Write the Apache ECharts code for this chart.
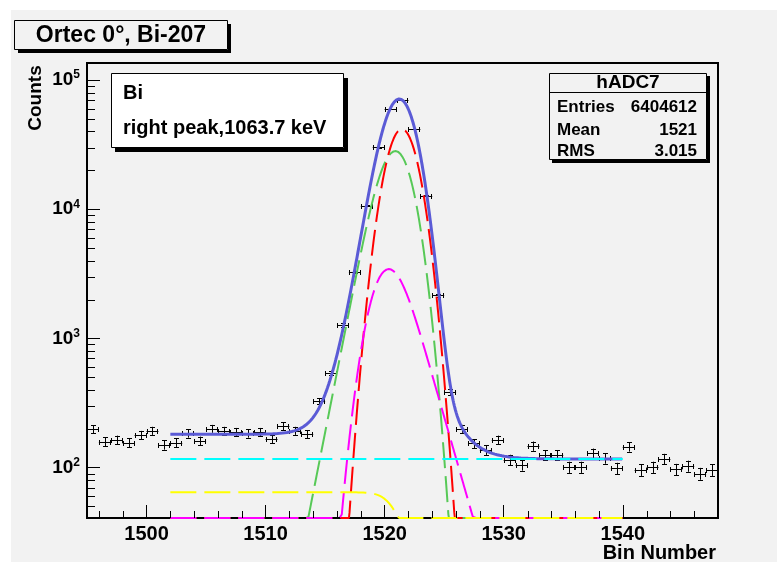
<!DOCTYPE html>
<html>
<head>
<meta charset="utf-8">
<script src="https://cdn.jsdelivr.net/npm/echarts@6/dist/echarts.min.js"></script>
<style>
html, body { margin: 0; padding: 0; background: #ffffff; }
#chart { width: 784px; height: 567px; }
</style>
</head>
<body>
<div id="chart"></div>
<script>
// ---- histogram hADC7 (one count per unit-wide bin, first bin starts at binStart) ----
const binStart = 1495;
const counts = [
  199, 159, 164, 156, 179, 193, 150, 156, 184, 161,
  200, 193, 189, 184, 189, 167, 210, 193, 182, 326,
  540, 1270, 3265, 10640, 30130, 59650, 69990, 41760, 12720, 2156,
  385, 200, 154, 137, 164, 115, 105, 147, 125, 125,
  101, 101, 129, 118, 99, 145, 96, 101, 117, 97,
  103, 90, 96
];

// ---- axes ----
const xRange = [1495, 1548];
const yRange = [40.73, 135400];
const xTickValues = [1500, 1510, 1520, 1530, 1540];
const yTickValues = [100, 1000, 10000, 100000];

// ---- fit components (drawn over fitRange) ----
const fitRange = [1502, 1540];
const redPeak = [41700, 1521.45, 1.19];            // height, position, sigma
const greenPeak = [28200, 1520.9, 1.15, 0.93];     // height, position, sigma, low-side tail
const magentaPeak = [3440, 1520.35, 1.2, 1.35];    // height, position, sigma, high-side tail
const flatLevel = [116.6];                          // constant background
const stepLevel = [64.4, 1521.55, 1.27];           // height, edge position, edge width

// ---- stats box ----
const statsTitle = 'hADC7';
const statsLabels = ['Entries', 'Mean', 'RMS'];
const statsValues = ['6404612', '1521', '3.015'];

const FONT = '"Liberation Sans", Arial, Helvetica, sans-serif';

// complementary error function (Chebyshev fit, rel. error < 1.2e-7)
function erfc(x) {
  const z = Math.abs(x);
  const t = 1 / (1 + 0.5 * z);
  const r = t * Math.exp(-z * z - 1.26551223 + t * (1.00002368 + t * (0.37409196 + t * (0.09678418 +
    t * (-0.18628806 + t * (0.27886807 + t * (-1.13520398 + t * (1.48851587 +
    t * (-0.82215223 + t * 0.17087277)))))))));
  return x >= 0 ? r : 2 - r;
}

// exponentially modified gaussian, tail towards negative d
function emgShape(d, sigma, tau) {
  return Math.exp(d / tau + sigma * sigma / (2 * tau * tau)) * erfc((d / sigma + sigma / tau) / Math.SQRT2);
}

// peak with an exponential tail, normalised to its height at its maximum
function tailedPeak(params, tailSide) {
  const [height, pos, sigma, tau] = params;
  let best = -1, dBest = 0;
  for (let d = -8; d <= 8; d += 0.001) {
    const v = emgShape(d, sigma, tau);
    if (v > best) { best = v; dBest = d; }
  }
  return x => {
    const d = tailSide < 0 ? (x - pos) + dBest : -(x - pos) + dBest;
    return height * emgShape(d, sigma, tau) / best;
  };
}

const redFn = x => redPeak[0] * Math.exp(-Math.pow(x - redPeak[1], 2) / (2 * redPeak[2] * redPeak[2]));
const greenFn = tailedPeak(greenPeak, -1);
const magentaFn = tailedPeak(magentaPeak, +1);
const cyanFn = x => flatLevel[0];
const yellowFn = x => stepLevel[0] * 0.5 * erfc((x - stepLevel[1]) / (stepLevel[2] * Math.SQRT2));
const totalFn = x => redFn(x) + greenFn(x) + magentaFn(x) + cyanFn(x) + yellowFn(x);

// sample a function over the fit range; values under the axis floor sit on the frame
function sample(fn) {
  const pts = [];
  const n = 760;
  for (let i = 0; i <= n; i++) {
    const x = fitRange[0] + (fitRange[1] - fitRange[0]) * i / n;
    pts.push([x, Math.max(fn(x), yRange[0])]);
  }
  return pts;
}

function fitSeries(name, fn, color, width, dashed, z) {
  return {
    name: name,
    type: 'line',
    data: sample(fn),
    showSymbol: false,
    clip: false,
    silent: true,
    z: z,
    lineStyle: { color: color, width: width, type: dashed ? [26, 8] : 'solid' }
  };
}

// minor tick positions
const xMinorTicks = [];
for (let v = xRange[0] + 1; v < xRange[1]; v += 2) if (v % 10 !== 0) xMinorTicks.push([v]);
const yMinorTicks = [];
for (let e = 1; e <= 5; e++) {
  for (let m = 2; m <= 9; m++) {
    const v = m * Math.pow(10, e);
    if (v > yRange[0] && v < yRange[1]) yMinorTicks.push([v]);
  }
}

const px = v => Math.round(v) + 0.5;

const chart = echarts.init(document.getElementById('chart'), null, { renderer: 'canvas' });

const option = {
  animation: false,
  backgroundColor: 'transparent',
  grid: {
    left: 87, top: 63, width: 631, height: 455,
    show: true, borderColor: '#000', borderWidth: 2, backgroundColor: 'transparent'
  },
  xAxis: {
    type: 'value',
    min: xRange[0], max: xRange[1],
    axisLine: { show: true, lineStyle: { color: '#000', width: 2 } },
    axisTick: { show: true, inside: true, length: 13, customValues: xTickValues, lineStyle: { color: '#000', width: 1 } },
    axisLabel: {
      customValues: xTickValues, margin: 6,
      formatter: v => String(v),
      fontFamily: FONT, fontWeight: 'bold', fontSize: 20, color: '#000'
    },
    splitLine: { show: false }
  },
  yAxis: {
    type: 'log',
    logBase: 10,
    min: yRange[0], max: yRange[1],
    axisLine: { show: true, lineStyle: { color: '#000', width: 2 } },
    axisTick: { show: true, inside: true, length: 13, customValues: yTickValues, lineStyle: { color: '#000', width: 1 } },
    axisLabel: {
      customValues: yTickValues, margin: 7,
      formatter: v => '{b|10}{s|' + Math.round(Math.log10(v)) + '}',
      rich: {
        b: { fontFamily: FONT, fontWeight: 'bold', fontSize: 19, lineHeight: 22, color: '#000' },
        s: { fontFamily: FONT, fontWeight: 'bold', fontSize: 12, lineHeight: 12, color: '#000', verticalAlign: 'top' }
      }
    },
    splitLine: { show: false }
  },
  series: [
    {
      name: 'hADC7',
      type: 'custom',
      clip: true,
      z: 2,
      silent: true,
      data: counts.map((c, i) => [binStart + i + 0.5, c, Math.sqrt(c)]),
      renderItem: (params, api) => {
        const x = api.value(0), y = api.value(1), e = api.value(2);
        const l = api.coord([x - 0.5, y]);
        const r = api.coord([x + 0.5, y]);
        const lo = api.coord([x, Math.max(y - e, yRange[0])]);
        const hi = api.coord([x, y + e]);
        const c = 2.5;
        const style = { stroke: '#000', lineWidth: 1 };
        const cy = px(l[1]), cx = px(lo[0]);
        const seg = (x1, y1, x2, y2) => ({ type: 'line', shape: { x1, y1, x2, y2 }, style });
        return {
          type: 'group',
          children: [
            seg(l[0], cy, r[0], cy),
            seg(cx, lo[1], cx, hi[1]),
            seg(px(l[0]), cy - c, px(l[0]), cy + c),
            seg(px(r[0]) - 1, cy - c, px(r[0]) - 1, cy + c),
            seg(cx - c, px(lo[1]), cx + c, px(lo[1])),
            seg(cx - c, px(hi[1]), cx + c, px(hi[1]))
          ]
        };
      }
    },
    fitSeries('total', totalFn, '#5b5bd6', 3, false, 3),
    fitSeries('green', greenFn, '#57c957', 2, true, 4),
    fitSeries('red', redFn, '#ff0000', 2, true, 5),
    fitSeries('magenta', magentaFn, '#ff00ff', 2, true, 6),
    fitSeries('yellow', yellowFn, '#ffff00', 2, true, 7),
    fitSeries('cyan', cyanFn, '#00ffff', 2, true, 8),
    {
      name: 'xMinor',
      type: 'custom',
      silent: true,
      clip: false,
      z: 10,
      data: xMinorTicks,
      renderItem: (params, api) => {
        const p = api.coord([api.value(0), yRange[0]]);
        return { type: 'line', shape: { x1: px(p[0]), y1: p[1], x2: px(p[0]), y2: p[1] - 7 }, style: { stroke: '#000', lineWidth: 1 } };
      }
    },
    {
      name: 'yMinor',
      type: 'custom',
      silent: true,
      clip: false,
      z: 10,
      data: yMinorTicks.map(t => [xRange[0], t[0]]),
      renderItem: (params, api) => {
        const p = api.coord([api.value(0), api.value(1)]);
        return { type: 'line', shape: { x1: p[0], y1: px(p[1]), x2: p[0] + 8, y2: px(p[1]) }, style: { stroke: '#000', lineWidth: 1 } };
      }
    }
  ],
  graphic: [
    // canvas area
    { type: 'rect', z: -100, silent: true, shape: { x: 11, y: 10, width: 766, height: 552 }, style: { fill: '#f2f2f2' } },

    // title pave
    { type: 'rect', z: 20, silent: true, shape: { x: 18, y: 50, width: 213, height: 3 }, style: { fill: '#000' } },
    { type: 'rect', z: 20, silent: true, shape: { x: 228, y: 24, width: 3, height: 29 }, style: { fill: '#000' } },
    { type: 'rect', z: 21, silent: true, shape: { x: 14.5, y: 20.5, width: 213, height: 29 }, style: { fill: '#f2f2f2', stroke: '#000', lineWidth: 1 } },
    { type: 'text', z: 22, silent: true, x: 121, y: 36,
      style: { text: 'Ortec 0°, Bi-207', fontFamily: FONT, fontWeight: 'bold', fontSize: 23, fill: '#000', align: 'center', verticalAlign: 'middle' } },

    // label pave
    { type: 'rect', z: 20, silent: true, shape: { x: 115, y: 148, width: 233, height: 4 }, style: { fill: '#000' } },
    { type: 'rect', z: 20, silent: true, shape: { x: 344, y: 78, width: 4, height: 74 }, style: { fill: '#000' } },
    { type: 'rect', z: 21, silent: true, shape: { x: 111.5, y: 73.5, width: 232, height: 74 }, style: { fill: '#ffffff', stroke: '#000', lineWidth: 1 } },
    { type: 'text', z: 22, silent: true, x: 123, y: 93,
      style: { text: 'Bi', fontFamily: FONT, fontWeight: 'bold', fontSize: 20, fill: '#000', align: 'left', verticalAlign: 'middle' } },
    { type: 'text', z: 22, silent: true, x: 123, y: 128,
      style: { text: 'right peak,1063.7 keV', fontFamily: FONT, fontWeight: 'bold', fontSize: 20, fill: '#000', align: 'left', verticalAlign: 'middle' } },

    // stats pave
    { type: 'rect', z: 20, silent: true, shape: { x: 552, y: 160, width: 158, height: 3 }, style: { fill: '#000' } },
    { type: 'rect', z: 20, silent: true, shape: { x: 707, y: 76, width: 3, height: 87 }, style: { fill: '#000' } },
    { type: 'rect', z: 21, silent: true, shape: { x: 549.5, y: 73.5, width: 157, height: 86 }, style: { fill: '#f2f2f2', stroke: '#000', lineWidth: 1 } },
    { type: 'line', z: 22, silent: true, shape: { x1: 549.5, y1: 92.5, x2: 706.5, y2: 92.5 }, style: { stroke: '#000', lineWidth: 1 } },
    { type: 'text', z: 22, silent: true, x: 628, y: 83,
      style: { text: statsTitle, fontFamily: FONT, fontWeight: 'bold', fontSize: 19, fill: '#000', align: 'center', verticalAlign: 'middle' } },
    ...statsLabels.map((t, i) => ({ type: 'text', z: 22, silent: true, x: 557, y: [107, 130, 151][i],
      style: { text: t, fontFamily: FONT, fontWeight: 'bold', fontSize: 17, fill: '#000', align: 'left', verticalAlign: 'middle' } })),
    ...statsValues.map((t, i) => ({ type: 'text', z: 22, silent: true, x: 697, y: [107, 130, 151][i],
      style: { text: t, fontFamily: FONT, fontWeight: 'bold', fontSize: 17, fill: '#000', align: 'right', verticalAlign: 'middle' } })),

    // axis titles
    { type: 'text', z: 22, silent: true, x: 36, y: 98, rotation: Math.PI / 2,
      style: { text: 'Counts', fontFamily: FONT, fontWeight: 'bold', fontSize: 19, fill: '#000', align: 'center', verticalAlign: 'middle' } },
    { type: 'text', z: 22, silent: true, x: 716, y: 553,
      style: { text: 'Bin Number', fontFamily: FONT, fontWeight: 'bold', fontSize: 20, fill: '#000', align: 'right', verticalAlign: 'middle' } }
  ]
};

chart.setOption(option);
</script>
</body>
</html>
